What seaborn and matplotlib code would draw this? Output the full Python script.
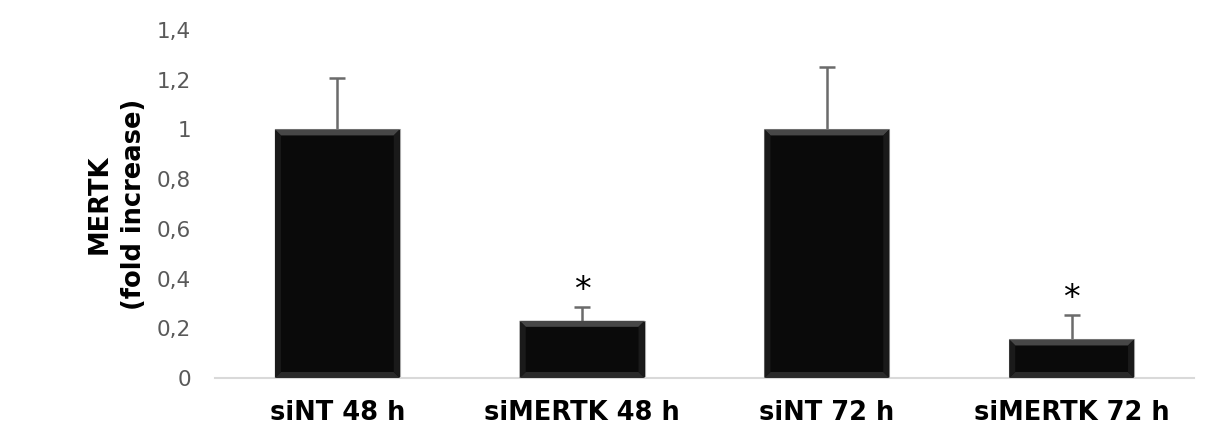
import matplotlib
matplotlib.use("Agg")
import matplotlib.pyplot as plt
import seaborn as sns
import pandas as pd
from matplotlib.ticker import FuncFormatter
from matplotlib.patches import Polygon

# Relative MERTK expression after siRNA knockdown
conditions = ["siNT 48 h", "siMERTK 48 h", "siNT 72 h", "siMERTK 72 h"]
fold_change = [1.0, 0.23, 1.0, 0.155]
upper_err = [0.205, 0.055, 0.25, 0.098]
significant = [False, True, False, True]

df = pd.DataFrame({"condition": conditions, "fold": fold_change})

sns.set_theme(style="white")
plt.rcParams["font.family"] = ["DejaVu Sans"]

fig = plt.figure(figsize=(12.09, 4.26), dpi=100)
ax = fig.add_axes([0.1778, 0.1127, 0.8098, 0.8169])

sns.barplot(data=df, x="condition", y="fold", color="#0a0a0a", width=0.51,
            edgecolor="#a8a8a8", linewidth=0.8, errorbar=None, ax=ax,
            saturation=1, zorder=2)

# Upper-only error bars: stem from the bar top, cap at the end
xs = list(range(len(conditions)))
tops = [v + e for v, e in zip(fold_change, upper_err)]
ax.errorbar(xs, fold_change, yerr=[[0] * len(upper_err), upper_err],
            fmt="none", ecolor="#6b6b6b", elinewidth=1.8, capsize=0, zorder=1)
ax.plot(xs, tops, linestyle="none", marker="_", markersize=12,
        markeredgewidth=1.8, color="#6b6b6b", zorder=1)

for x, t, s in zip(xs, tops, significant):
    if s:
        ax.text(x, t + 0.068, "*", ha="center", va="center",
                fontsize=24, color="black")

ax.set_ylim(0, 1.4)
ax.set_xlim(-0.5, 3.5)
ax.set_yticks([0, 0.2, 0.4, 0.6, 0.8, 1.0, 1.2, 1.4])
ax.yaxis.set_major_formatter(FuncFormatter(
    lambda v, p: f"{v:.1f}".rstrip("0").rstrip(".").replace(".", ",") if v else "0"))
ax.tick_params(axis="y", labelsize=15.5, labelcolor="#595959", length=0, pad=17)
ax.tick_params(axis="x", labelsize=18.5, length=0, pad=16)
for lbl in ax.get_xticklabels():
    lbl.set_fontweight("bold")
    lbl.set_color("black")

ax.set_xlabel("")
ax.set_ylabel("MERTK\n(fold increase)", fontsize=18.5, fontweight="bold",
              color="black", labelpad=7, linespacing=1.45)

for side in ["top", "right", "left"]:
    ax.spines[side].set_visible(False)
ax.spines["bottom"].set_color("#d9d9d9")
ax.spines["bottom"].set_linewidth(1.5)
ax.grid(False)

# Bevelled edges on each bar, built from the drawn bar rectangles
fig.canvas.draw()
bev = 6
for patch in ax.patches:
    bb = patch.get_window_extent()
    x0, y0, x1, y1 = bb.x0, bb.y0, bb.x1, bb.y1
    faces = [
        ([(x0, y1), (x1, y1), (x1 - bev, y1 - bev), (x0 + bev, y1 - bev)], "#474747"),
        ([(x0, y0), (x1, y0), (x1 - bev, y0 + bev), (x0 + bev, y0 + bev)], "#2a2a2a"),
        ([(x0, y0), (x0, y1), (x0 + bev, y1 - bev), (x0 + bev, y0 + bev)], "#1a1a1a"),
        ([(x1, y0), (x1, y1), (x1 - bev, y1 - bev), (x1 - bev, y0 + bev)], "#1a1a1a"),
    ]
    for pts, col in faces:
        fig.patches.append(Polygon(pts, closed=True, facecolor=col,
                                   edgecolor="none", transform=None,
                                   figure=fig, zorder=3))

fig.savefig("out.png", dpi=100, facecolor="white")
